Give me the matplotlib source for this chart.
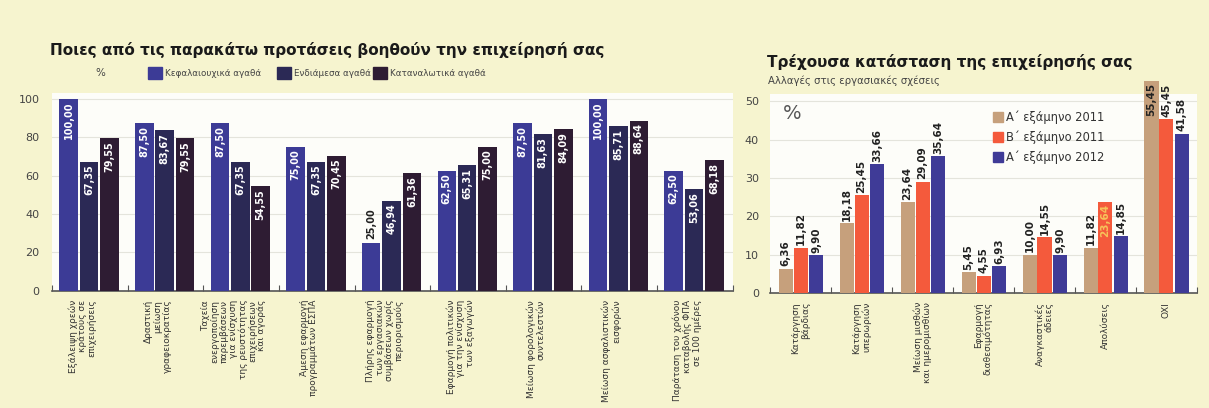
import matplotlib
matplotlib.use("Agg")
import matplotlib.pyplot as plt
from matplotlib.patches import Rectangle

plt.rcParams['font.family'] = ['DejaVu Sans']

# left chart data
left_cats = ["Εξάλειψη χρεών\nκράτους σε\nεπιχειρήσεις",
             "Δραστική\nμείωση\nγραφειοκρατίας",
             "Ταχεία\nενεργοποίηση\nπαρεμβάσεων\nγια ενίσχυση\nτης ρευστότητας\nεπιχειρήσεων\nκαι αγοράς",
             "Άμεση εφαρμογή\nπρογραμμάτων ΕΣΠΑ",
             "Πλήρης εφαρμογή\nτων εργασιακών\nσυμβάσεων χωρίς\nπεριορισμούς",
             "Εφαρμογή πολιτικών\nγια την ενίσχυση\nτων εξαγωγών",
             "Μείωση φορολογικών\nσυντελεστών",
             "Μείωση ασφαλιστικών\nεισφορών",
             "Παράταση του χρόνου\nκαταβολής ΦΠΑ\nσε 100 ημέρες"]
kefalaiouxika = [100.00, 87.50, 87.50, 75.00, 25.00, 62.50, 87.50, 100.00, 62.50]
endiamesa = [67.35, 83.67, 67.35, 67.35, 46.94, 65.31, 81.63, 85.71, 53.06]
katanalotika = [79.55, 79.55, 54.55, 70.45, 61.36, 75.00, 84.09, 88.64, 68.18]
left_names = ["Κεφαλαιουχικά αγαθά", "Ενδιάμεσα αγαθά", "Καταναλωτικά αγαθά"]

# right chart data
right_cats = ["Κατάργηση\nβάρδιας", "Κατάργηση\nυπερωριών", "Μείωση μισθών\nκαι ημερομισθίων",
              "Εφαρμογή\nδιαθεσιμότητας", "Αναγκαστικές\nάδειες", "Απολύσεις", "ΟΧΙ"]
a2011 = [6.36, 18.18, 23.64, 5.45, 10.00, 11.82, 55.45]
b2011 = [11.82, 25.45, 29.09, 4.55, 14.55, 23.64, 45.45]
a2012 = [9.90, 33.66, 35.64, 6.93, 9.90, 14.85, 41.58]
right_names = ["Α΄ εξάμηνο 2011", "Β΄ εξάμηνο 2011", "Α΄ εξάμηνο 2012"]

bg = '#f6f4cf'
txt = '#333333'

def fmt(v):
    return ('%.2f' % v).replace('.', ',')

fig = plt.figure(figsize=(12.09, 4.08), dpi=100, facecolor=bg)

# ---- left chart ----
ax = fig.add_axes([0.043, 0.287, 0.563, 0.485])
ax.set_facecolor('#fdfdf9')
left_colors = ['#3c3b96', '#2b2955', '#2e1c33']
series = [kefalaiouxika, endiamesa, katanalotika]
offs = [-0.27, 0.0, 0.27]
for s, vals in enumerate(series):
    for i, v in enumerate(vals):
        x = i + offs[s] - 0.01
        ax.bar(x, v, width=0.245, color=left_colors[s], zorder=3, clip_on=False)
        if v < 30:
            ax.text(x, v + 2, fmt(v), rotation=90, ha='center', va='bottom',
                    color='#222', fontsize=7, fontweight='bold', zorder=4)
        else:
            ax.text(x, v - 1.5, fmt(v), rotation=90, ha='center', va='top',
                    color='white', fontsize=7, fontweight='bold', zorder=4)
ax.set_xlim(-0.5, len(left_cats) - 0.5)
ax.set_ylim(0, 103)
ax.set_yticks([0, 20, 40, 60, 80, 100])
ax.set_xticks([k - 0.5 for k in range(len(left_cats) + 1)])
ax.set_xticklabels([])
ax.tick_params(axis='x', direction='in', length=4, color='#555')
ax.tick_params(axis='y', length=0, labelsize=8, labelcolor='#444', pad=9)
ax.grid(axis='y', color='#e4e4dc', lw=0.8, zorder=0)
for sp in ['left', 'right', 'top']:
    ax.spines[sp].set_visible(False)
ax.spines['bottom'].set_color('#555')
ax.spines['bottom'].set_linewidth(1.2)
for i, c in enumerate(left_cats):
    ax.text(i - 0.1, -0.045, c, transform=ax.get_xaxis_transform(), rotation=90,
            ha='center', va='top', multialignment='right', fontsize=6.5,
            color=txt, linespacing=1.05)

fig.text(0.041, 0.877, "Ποιες από τις παρακάτω προτάσεις βοηθούν την επιχείρησή σας",
         fontsize=11, fontweight='bold', color='#1a1a1a', va='center')
fig.text(0.079, 0.82, "%", fontsize=7.5, color='#444', va='center')
lx = [0.1225, 0.229, 0.3085]
for k in range(3):
    fig.patches.append(Rectangle((lx[k], 0.806), 0.0115, 0.03, transform=fig.transFigure,
                                 color=left_colors[k]))
    fig.text(lx[k] + 0.014, 0.82, left_names[k], fontsize=6.3, color='#444', va='center')

# ---- right chart ----
ax2 = fig.add_axes([0.637, 0.282, 0.353, 0.488])
ax2.set_facecolor('#fdfdf9')
right_colors = ['#c6a07c', '#f45a3c', '#3f3b97']
rseries = [a2011, b2011, a2012]
roffs = [-0.245, 0.0, 0.255]
for s, vals in enumerate(rseries):
    for i, v in enumerate(vals):
        x = i + roffs[s]
        ax2.bar(x, v, width=0.23, color=right_colors[s], zorder=3, clip_on=False)
        if s == 0 and v > 50:
            ax2.text(x, v - 0.5, fmt(v), rotation=90, ha='center', va='top',
                     color='#222', fontsize=7.5, fontweight='bold', zorder=4, clip_on=False)
        elif s == 1 and i == 5:
            ax2.text(x, v - 0.5, fmt(v), rotation=90, ha='center', va='top',
                     color='#f7c35a', fontsize=7.5, fontweight='bold', zorder=4)
        else:
            ax2.text(x, v + 0.6, fmt(v), rotation=90, ha='center', va='bottom',
                     color='#222', fontsize=7.5, fontweight='bold', zorder=4, clip_on=False)
ax2.set_xlim(-0.5, len(right_cats) - 0.5)
ax2.set_ylim(0, 52)
ax2.set_yticks([0, 10, 20, 30, 40, 50])
ax2.set_xticks([k - 0.5 for k in range(len(right_cats) + 1)])
ax2.set_xticklabels([])
ax2.tick_params(axis='x', direction='in', length=4, color='#555')
ax2.tick_params(axis='y', length=0, labelsize=8, labelcolor='#444', pad=8)
ax2.grid(axis='y', color='#e4e4dc', lw=0.8, zorder=0)
for sp in ['left', 'right', 'top']:
    ax2.spines[sp].set_visible(False)
ax2.spines['bottom'].set_color('#555')
ax2.spines['bottom'].set_linewidth(1.2)
for i, c in enumerate(right_cats):
    ax2.text(i, -0.045, c, transform=ax2.get_xaxis_transform(), rotation=90,
             ha='center', va='top', multialignment='right', fontsize=6.5,
             color=txt, linespacing=1.05)
ax2.text(0.03, 0.9, "%", transform=ax2.transAxes, fontsize=14, color='#555', va='center')

fig.text(0.634, 0.848, "Τρέχουσα κατάσταση της επιχείρησής σας",
         fontsize=11, fontweight='bold', color='#1a1a1a', va='center')
fig.text(0.635, 0.803, "Αλλαγές στις εργασιακές σχέσεις", fontsize=7.3, color='#444', va='center')
for k in range(3):
    yy = 0.713 - k * 0.049
    fig.patches.append(Rectangle((0.8215, yy - 0.012), 0.0085, 0.025, transform=fig.transFigure,
                                 color=right_colors[k]))
    fig.text(0.8325, yy, right_names[k], fontsize=8.3, color='#333', va='center')

fig.savefig("out.png", dpi=100, facecolor=bg)
